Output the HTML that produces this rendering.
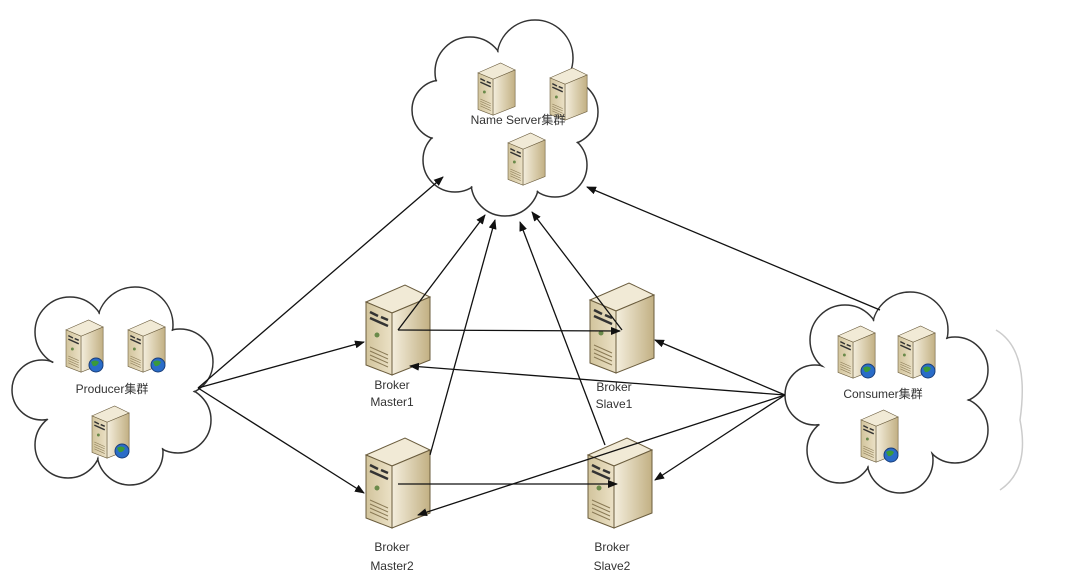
<!DOCTYPE html>
<html><head><meta charset="utf-8"><style>
html,body{margin:0;padding:0;background:#fff;width:1088px;height:579px;overflow:hidden}
text{font-family:"Liberation Sans","Noto Sans CJK SC",sans-serif;fill:#333}
</style></head><body>
<svg width="1088" height="579" viewBox="0 0 1088 579" xmlns="http://www.w3.org/2000/svg">
<defs>
<marker id="ar" markerWidth="10" markerHeight="8" refX="9" refY="4" orient="auto" markerUnits="userSpaceOnUse">
<path d="M0,0 L10,4 L0,8 z" fill="#111"/></marker>
<linearGradient id="gl" x1="0" y1="0" x2="1" y2="0"><stop offset="0" stop-color="#d2c49c"/><stop offset="1" stop-color="#ebe1c6"/></linearGradient>
<linearGradient id="gr" x1="0" y1="0" x2="1" y2="0"><stop offset="0" stop-color="#f4eedd"/><stop offset="1" stop-color="#c2b083"/></linearGradient>
<g id="srv">
<polygon points="0,17 39,0 64,12 26,28" fill="#f1ead6" stroke="#6b5d3e" stroke-width="1"/>
<polygon points="0,17 26,28 26,90 0,80" fill="url(#gl)" stroke="#6b5d3e" stroke-width="1"/>
<polygon points="26,28 64,12 64,75 26,90" fill="url(#gr)" stroke="#6b5d3e" stroke-width="1"/>
<path d="M4,27 L12,31 M15,32 L22,35 M4,33 L22,41" stroke="#333" stroke-width="2.5"/>
<circle cx="11" cy="50" r="2.5" fill="#6a8a4a"/>
<path d="M4,62 L22,70 M4,66 L22,74 M4,70 L22,78 M4,74 L22,82" stroke="#8a7a55" stroke-width="1"/>
</g>
<g id="sm">
<use href="#srv" transform="scale(0.58)"/>
</g>
<g id="smg">
<use href="#srv" transform="scale(0.58)"/>
<circle cx="30" cy="45" r="7" fill="#2a6cc8" stroke="#1a3f7a"/>
<path d="M25,42 q4,-3 8,0 q-2,5 -6,4 z" fill="#3a9a3a"/>
</g>
</defs>

<g stroke="#333" stroke-width="1.5" fill="none">
<circle cx="470" cy="72" r="35"/><circle cx="535" cy="58" r="38"/><circle cx="565" cy="112" r="33"/>
<circle cx="555" cy="165" r="32"/><circle cx="505" cy="182" r="34"/><circle cx="455" cy="160" r="32"/>
<circle cx="442" cy="110" r="30"/>
</g>
<g fill="#fff">
<circle cx="470" cy="72" r="34"/><circle cx="535" cy="58" r="37"/><circle cx="565" cy="112" r="32"/>
<circle cx="555" cy="165" r="31"/><circle cx="505" cy="182" r="33"/><circle cx="455" cy="160" r="31"/>
<circle cx="442" cy="110" r="29"/><circle cx="505" cy="120" r="62"/>
</g>
<g stroke="#333" stroke-width="1.5" fill="none">
<circle cx="70" cy="332" r="35"/><circle cx="135" cy="325" r="38"/><circle cx="180" cy="362" r="33"/>
<circle cx="178" cy="420" r="33"/><circle cx="130" cy="452" r="33"/><circle cx="68" cy="445" r="33"/>
<circle cx="42" cy="390" r="30"/>
</g>
<g fill="#fff">
<circle cx="70" cy="332" r="34"/><circle cx="135" cy="325" r="37"/><circle cx="180" cy="362" r="32"/>
<circle cx="178" cy="420" r="32"/><circle cx="130" cy="452" r="32"/><circle cx="68" cy="445" r="32"/>
<circle cx="42" cy="390" r="29"/><circle cx="112" cy="388" r="64"/><circle cx="62" cy="405" r="20"/>
</g>
<g stroke="#333" stroke-width="1.5" fill="none">
<circle cx="845" cy="340" r="35"/><circle cx="910" cy="330" r="38"/><circle cx="955" cy="370" r="33"/>
<circle cx="955" cy="430" r="33"/><circle cx="900" cy="460" r="33"/><circle cx="840" cy="450" r="33"/>
<circle cx="815" cy="395" r="30"/>
</g>
<g fill="#fff">
<circle cx="845" cy="340" r="34"/><circle cx="910" cy="330" r="37"/><circle cx="955" cy="370" r="32"/>
<circle cx="955" cy="430" r="32"/><circle cx="900" cy="460" r="32"/><circle cx="840" cy="450" r="32"/>
<circle cx="815" cy="395" r="29"/><circle cx="885" cy="392" r="64"/><circle cx="835" cy="412" r="20"/><circle cx="925" cy="432" r="20"/>
</g>
<path d="M996,330 Q1030,350 1020,420 Q1030,470 1000,490" stroke="#ccc" stroke-width="1.5" fill="none"/>

<use href="#sm" x="478" y="63"/><use href="#sm" x="550" y="68"/><use href="#sm" x="508" y="133"/>
<use href="#smg" x="66" y="320"/><use href="#smg" x="128" y="320"/><use href="#smg" x="92" y="406"/>
<use href="#smg" x="838" y="326"/><use href="#smg" x="898" y="326"/><use href="#smg" x="861" y="410"/>
<use href="#srv" x="366" y="285"/><use href="#srv" x="590" y="283"/>
<use href="#srv" x="366" y="438"/><use href="#srv" x="588" y="438"/>

<g stroke="#111" stroke-width="1.3" fill="none" marker-end="url(#ar)">
<line x1="198" y1="388" x2="443" y2="177"/>
<line x1="198" y1="388" x2="364" y2="342"/>
<line x1="198" y1="388" x2="364" y2="493"/>
<line x1="398" y1="330" x2="485" y2="215"/>
<line x1="430" y1="455" x2="495" y2="220"/>
<line x1="605" y1="445" x2="520" y2="222"/>
<line x1="622" y1="330" x2="532" y2="212"/>
<line x1="880" y1="310" x2="587" y2="187"/>
<line x1="398" y1="330" x2="620" y2="331"/>
<line x1="398" y1="484" x2="617" y2="484"/>
<line x1="785" y1="395" x2="655" y2="340"/>
<line x1="785" y1="395" x2="410" y2="366"/>
<line x1="785" y1="395" x2="418" y2="515"/>
<line x1="785" y1="395" x2="655" y2="480"/>
</g>

<g font-size="12" text-anchor="middle">
<text x="518" y="124">Name Server集群</text>
<text x="112" y="393">Producer集群</text>
<text x="883" y="398">Consumer集群</text>
<text x="392" y="389">Broker</text><text x="392" y="406">Master1</text>
<text x="614" y="391">Broker</text><text x="614" y="408">Slave1</text>
<text x="392" y="551">Broker</text><text x="392" y="570">Master2</text>
<text x="612" y="551">Broker</text><text x="612" y="570">Slave2</text>
</g>
</svg>
</body></html>
